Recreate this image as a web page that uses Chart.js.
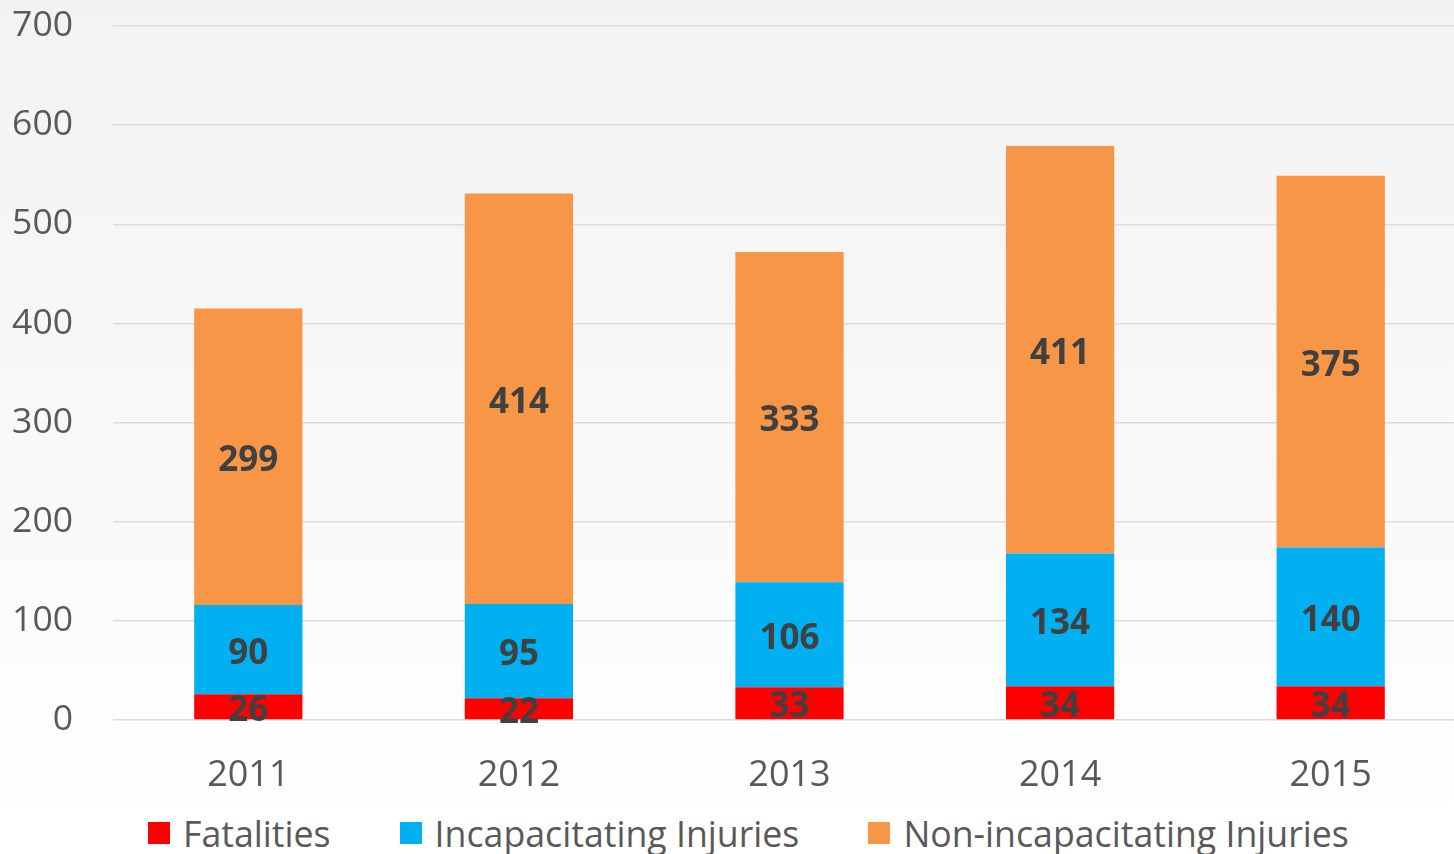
<!DOCTYPE html>
<html>
<head>
<meta charset="utf-8">
<script src="https://cdn.jsdelivr.net/npm/chart.js@4/dist/chart.umd.min.js"></script>
<style>
  html, body { margin: 0; padding: 0; }
  body { width: 1454px; height: 854px; overflow: hidden; background: linear-gradient(to bottom, #f2f2f2 0%, #ffffff 100%); }
  #wrap { width: 1454px; height: 854px; position: relative; overflow: hidden; }
  #c { position: absolute; left: 0; top: 0; }
  #legend { position: absolute; left: 148px; top: 812px; height: 42px; display: flex; align-items: center;
            font-family: 'Open Sans', 'DejaVu Sans', sans-serif; font-size: 35.7px; color: #595959; white-space: nowrap; }
  .item { display: flex; align-items: center; margin-right: 69px; }
  .box { width: 22px; height: 22px; margin-right: 13px; }
</style>
</head>
<body>
<div id="wrap"><canvas id="c" width="1466" height="800"></canvas><div id="legend"></div></div>
<script>
const categories = ["2011", "2012", "2013", "2014", "2015"];
const fatalities = [26, 22, 33, 34, 34];
const incapacitating = [90, 95, 106, 134, 140];
const nonIncapacitating = [299, 414, 333, 411, 375];
const seriesNames = ["Fatalities", "Incapacitating Injuries", "Non-incapacitating Injuries"];
const seriesColors = ["#ff0000", "#00b0f0", "#f79646"];
const yTicks = [0, 100, 200, 300, 400, 500, 600, 700];

const FONT = "'Open Sans', 'DejaVu Sans', sans-serif";

const labelPlugin = {
  id: 'segLabels',
  afterDatasetsDraw(chart) {
    const ctx = chart.ctx;
    ctx.save();
    ctx.font = "bold 35px " + FONT;
    ctx.fillStyle = '#404040';
    ctx.textAlign = 'center';
    ctx.textBaseline = 'middle';
    chart.data.datasets.forEach((ds, di) => {
      const meta = chart.getDatasetMeta(di);
      meta.data.forEach((el, i) => {
        const p = el.getProps(['x', 'y', 'base'], true);
        ctx.fillText(String(ds.data[i]), p.x, (p.y + p.base) / 2 + 4);
      });
    });
    ctx.restore();
  }
};

const chart = new Chart(document.getElementById('c'), {
  type: 'bar',
  data: {
    labels: categories,
    datasets: [
      { label: seriesNames[0], data: fatalities, backgroundColor: seriesColors[0] },
      { label: seriesNames[1], data: incapacitating, backgroundColor: seriesColors[1] },
      { label: seriesNames[2], data: nonIncapacitating, backgroundColor: seriesColors[2] }
    ]
  },
  options: {
    responsive: false,
    animation: false,
    layout: { padding: { top: 26, right: 0, bottom: 0, left: 0 } },
    datasets: { bar: { categoryPercentage: 1.0, barPercentage: 0.4 } },
    scales: {
      x: {
        stacked: true,
        grid: { display: false },
        border: { display: false },
        ticks: { color: '#595959', font: { family: FONT, size: 36 }, padding: 26 },
        afterFit(scale) { scale.height = 80; }
      },
      y: {
        stacked: true,
        min: 0, max: 700,
        afterBuildTicks(scale) { scale.ticks = yTicks.map(v => ({ value: v })); },
        grid: { color: '#dcdcdc', lineWidth: 1.5, drawTicks: false },
        border: { display: false },
        ticks: { color: '#595959', font: { family: FONT, size: 35.5 }, padding: 40 },
        afterFit(scale) { scale.width = 113; scale.paddingTop = 0; scale.paddingBottom = 0; }
      }
    },
    plugins: {
      legend: { display: false },
      tooltip: { enabled: false }
    }
  },
  plugins: [labelPlugin]
});

const legendEl = document.getElementById('legend');
chart.data.datasets.forEach(ds => {
  const item = document.createElement('div');
  item.className = 'item';
  const box = document.createElement('span');
  box.className = 'box';
  box.style.background = ds.backgroundColor;
  const txt = document.createElement('span');
  txt.textContent = ds.label;
  item.appendChild(box);
  item.appendChild(txt);
  legendEl.appendChild(item);
});
</script>
</body>
</html>
